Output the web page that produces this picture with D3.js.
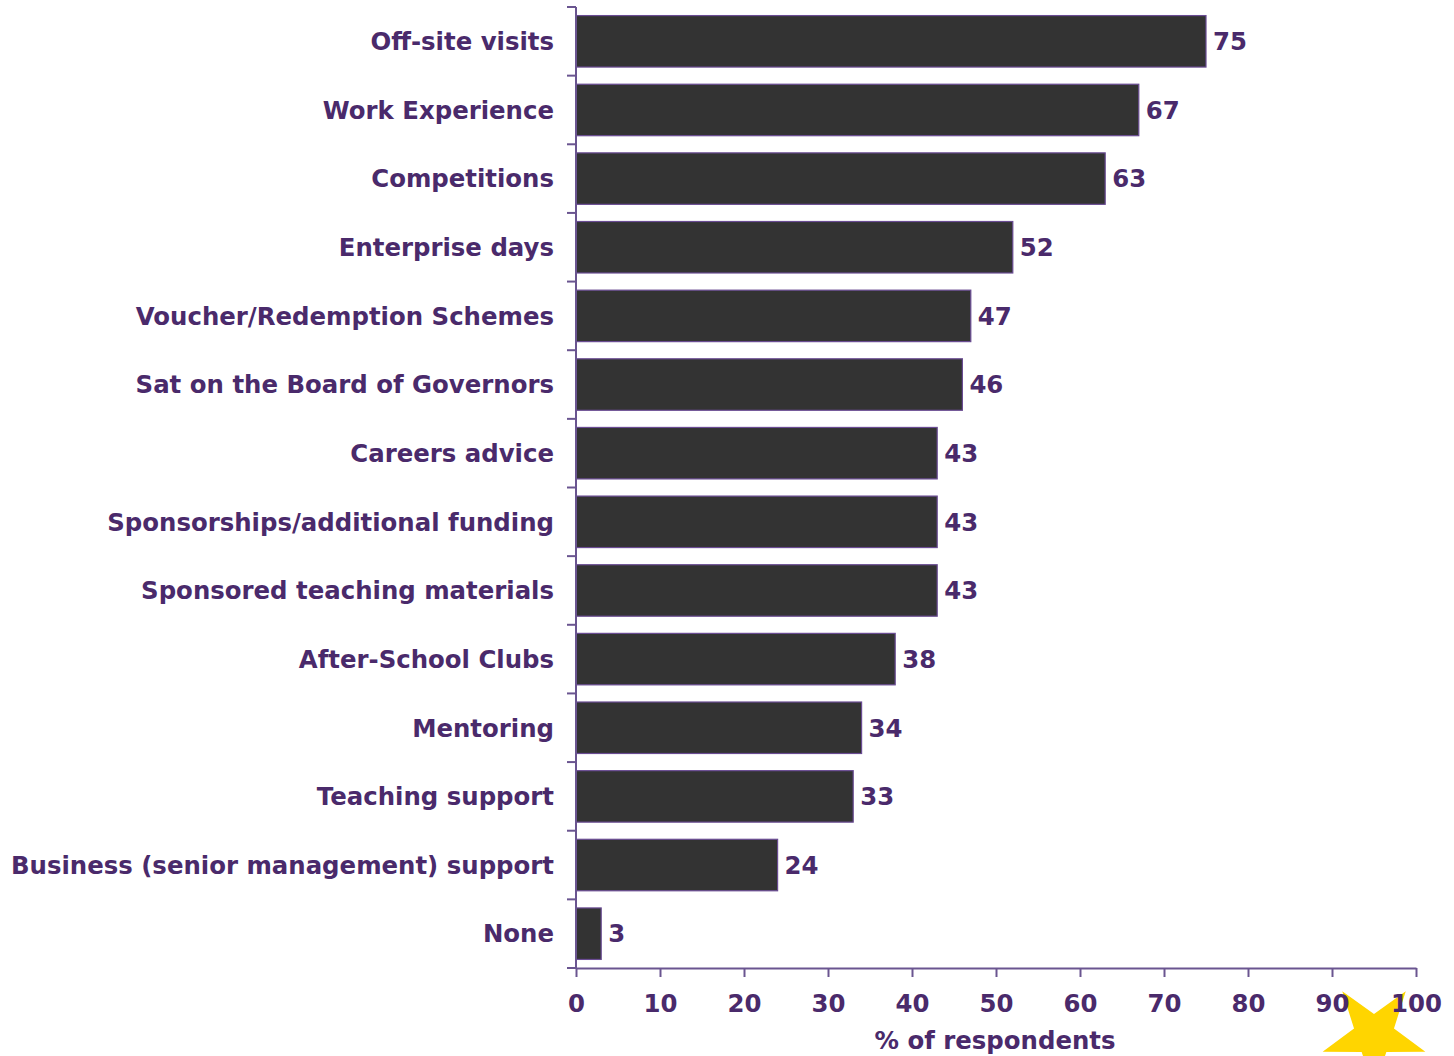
<!DOCTYPE html>
<html>
<head>
<meta charset="utf-8">
<script src="https://cdn.jsdelivr.net/npm/d3@7"></script>
<style>
  html, body { margin: 0; padding: 0; background: #ffffff; }
  svg { display: block; }
  text { font-family: "DejaVu Sans", Verdana, sans-serif; font-weight: bold; fill: #4a2a6b; }
</style>
</head>
<body>
<svg id="chart" width="1454" height="1056"></svg>
<script>
// Business involvement activities, % of respondents
const categories = [
  "Off-site visits",
  "Work Experience",
  "Competitions",
  "Enterprise days",
  "Voucher/Redemption Schemes",
  "Sat on the Board of Governors",
  "Careers advice",
  "Sponsorships/additional funding",
  "Sponsored teaching materials",
  "After-School Clubs",
  "Mentoring",
  "Teaching support",
  "Business (senior management) support",
  "None"
];
const values = [75, 67, 63, 52, 47, 46, 43, 43, 43, 38, 34, 33, 24, 3];
const xTicks = [0, 10, 20, 30, 40, 50, 60, 70, 80, 90, 100];
const xTitle = "% of respondents";

const margin = { left: 576, right: 38, top: 7, bottom: 88 };
const W = 1454, H = 1056;
const svg = d3.select("#chart");

const x = d3.scaleLinear().domain([0, 100]).range([margin.left, W - margin.right]);
const y = d3.scaleBand().domain(categories).range([margin.top, H - margin.bottom]).paddingInner(0.25).paddingOuter(0.125);

const axisColor = "#6a5590";
const y0 = H - margin.bottom;

// decorative inverted star under the axis end (drawn first so tick labels sit on top)
const R = 54, r = 21;
const cx = x(95), cy = y0 + 67;
const pts = d3.range(10).map(k => {
  const a = Math.PI + k * Math.PI / 5;
  const rad = k % 2 === 0 ? R : r;
  return [cx + rad * Math.sin(a), cy - rad * Math.cos(a)];
});
svg.append("path")
  .attr("d", d3.line()(pts) + "Z")
  .attr("fill", "#ffd500");

// bars
svg.append("g").selectAll("rect")
  .data(values)
  .join("rect")
  .attr("x", x(0))
  .attr("y", (d, i) => y(categories[i]))
  .attr("width", d => x(d) - x(0))
  .attr("height", y.bandwidth())
  .attr("fill", "#333333")
  .attr("stroke", "#6a4c93")
  .attr("stroke-width", 1.2);

// value labels
svg.append("g").selectAll("text")
  .data(values)
  .join("text")
  .attr("x", d => x(d) + 7)
  .attr("y", (d, i) => y(categories[i]) + y.bandwidth() / 2)
  .attr("dy", "0.36em")
  .attr("font-size", 24.4)
  .text(d => d);

// category axis: line plus ticks at band boundaries
const bounds = d3.range(categories.length + 1).map(i => margin.top + i * (H - margin.bottom - margin.top) / categories.length);
const gy = svg.append("g");
gy.append("line")
  .attr("x1", x(0)).attr("x2", x(0))
  .attr("y1", margin.top).attr("y2", y0)
  .attr("stroke", axisColor).attr("stroke-width", 2);
gy.selectAll("line.tk")
  .data(bounds)
  .join("line")
  .attr("class", "tk")
  .attr("x1", x(0) - 9).attr("x2", x(0))
  .attr("y1", d => d).attr("y2", d => d)
  .attr("stroke", axisColor).attr("stroke-width", 2);
gy.selectAll("text")
  .data(categories)
  .join("text")
  .attr("x", x(0) - 22)
  .attr("y", d => y(d) + y.bandwidth() / 2)
  .attr("dy", "0.36em")
  .attr("text-anchor", "end")
  .attr("font-size", 24.4)
  .text(d => d);

// value axis
const gx = svg.append("g").attr("transform", `translate(0,${y0})`)
  .call(d3.axisBottom(x).tickValues(xTicks).tickSize(9).tickSizeOuter(0).tickPadding(18).tickFormat(d3.format("d")));
gx.select(".domain").attr("stroke", axisColor).attr("stroke-width", 2);
gx.selectAll(".tick line").attr("stroke", axisColor).attr("stroke-width", 2);
gx.selectAll(".tick text").attr("font-size", 24.4).attr("fill", "#4a2a6b")
  .attr("font-family", "DejaVu Sans, Verdana, sans-serif").attr("font-weight", "bold");

svg.append("text")
  .attr("x", (x(0) + x(100)) / 2 - 1)
  .attr("y", y0 + 81)
  .attr("text-anchor", "middle")
  .attr("font-size", 24.4)
  .text(xTitle);
</script>
</body>
</html>
